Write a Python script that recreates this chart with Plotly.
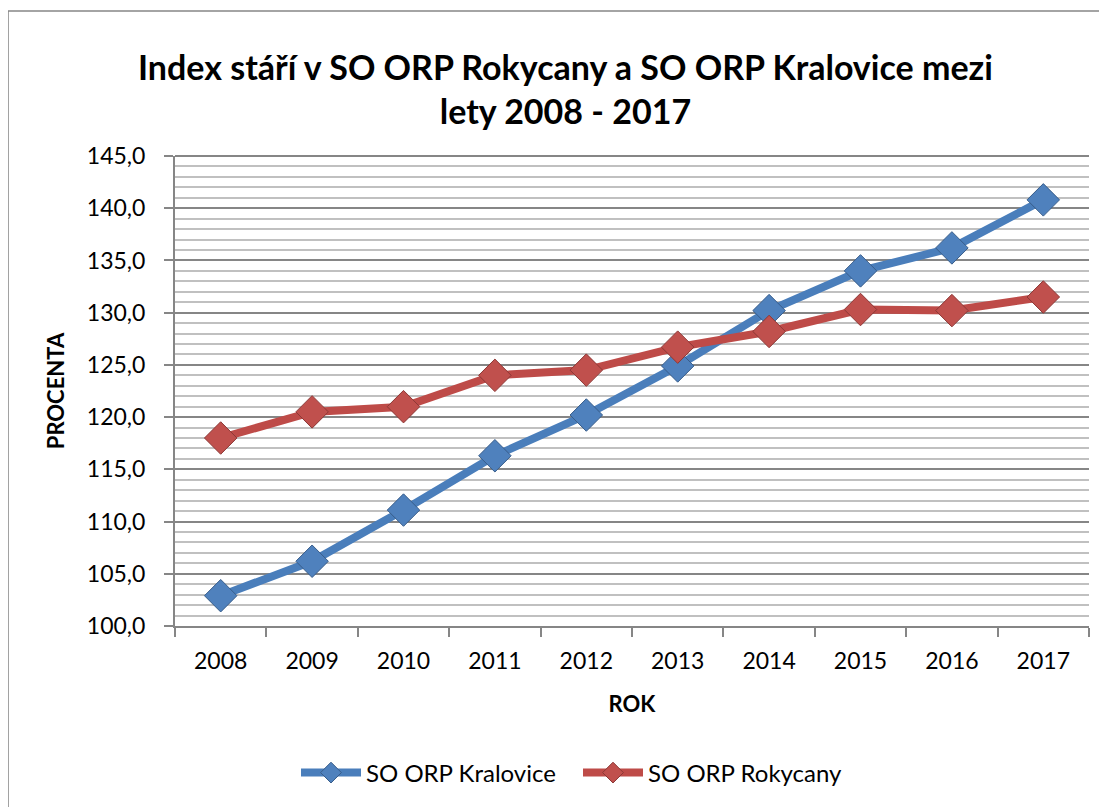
import plotly.graph_objects as go

years = ["2008", "2009", "2010", "2011", "2012", "2013", "2014", "2015", "2016", "2017"]
kralovice = [102.9, 106.2, 111.1, 116.3, 120.2, 124.9, 130.2, 134.0, 136.2, 140.8]
rokycany = [118.0, 120.5, 121.0, 124.0, 124.5, 126.7, 128.2, 130.3, 130.2, 131.5]

FONT = "Lato"

fig = go.Figure()
fig.add_trace(go.Scatter(
    x=years, y=kralovice, name="SO ORP Kralovice", mode="lines+markers",
    line=dict(color="#4a7ebb", width=8),
    marker=dict(symbol="diamond", size=25, color="#4f81bd", line=dict(color="#385d8a", width=1)),
))
fig.add_trace(go.Scatter(
    x=years, y=rokycany, name="SO ORP Rokycany", mode="lines+markers",
    line=dict(color="#be4b48", width=8),
    marker=dict(symbol="diamond", size=25, color="#c0504d", line=dict(color="#8c3836", width=1)),
))

fig.update_layout(
    width=1099, height=799,
    paper_bgcolor="white", plot_bgcolor="white",
    margin=dict(l=167, r=18, t=148, b=181, autoexpand=False),
    separators=",.",
    font=dict(family=FONT, color="black", size=23),
    showlegend=True,
    legend=dict(orientation="h", x=(578 - 175) / 914, xanchor="center", y=(626 - 773) / 470, yanchor="middle",
                font=dict(size=24, family=FONT), tracegroupgap=0, itemwidth=60,
                entrywidth=207, entrywidthmode="pixels"),
    shapes=[dict(type="rect", xref="paper", yref="paper",
                 x0=-0.1827, x1=1.03, y0=-0.4, y1=1.3085,
                 line=dict(color="#868686", width=1.5), layer="below")],
    annotations=[dict(text="<b>Index stáří v SO ORP Rokycany a SO ORP Kralovice mezi<br>lety 2008 - 2017</b>",
                      xref="paper", yref="paper", x=(565 - 175) / 914, y=(626 - 88) / 470,
                      xanchor="center", yanchor="middle", showarrow=False,
                      font=dict(size=34, family=FONT, color="black"))],
)

fig.update_xaxes(
    type="category", range=[-0.5, 9.5], tickson="boundaries", ticks="outside", ticklen=9, tickwidth=2,
    tickcolor="#868686", showline=True, linecolor="#868686", linewidth=2,
    showgrid=False, tickfont=dict(size=23), ticklabelstandoff=13,
    title=dict(text="<b>ROK</b>", font=dict(size=22), standoff=24),
)
fig.update_yaxes(
    range=[100, 145], dtick=5, tickformat=".1f", ticks="outside", ticklen=9, tickwidth=2,
    tickcolor="#868686", showline=True, linecolor="#868686", linewidth=2,
    showgrid=True, gridcolor="#868686", gridwidth=1.5,
    minor=dict(dtick=1, showgrid=True, gridcolor="#c0c0c0", gridwidth=1.5),
    tickfont=dict(size=23), ticklabelstandoff=14, zeroline=False,
    title=dict(text="<b>PROCENTA</b>", font=dict(size=22), standoff=16),
)
fig.add_shape(type="line", xref="paper", yref="paper", x0=0, x1=1, y0=1, y1=1,
              line=dict(color="#868686", width=2))

fig.write_html("out.html")
